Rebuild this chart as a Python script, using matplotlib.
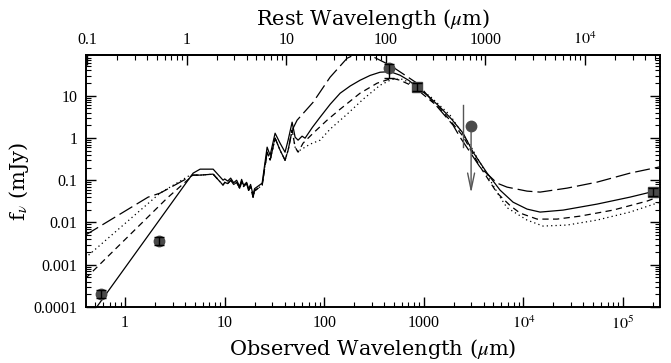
import numpy as np
import matplotlib
matplotlib.use('Agg')
import matplotlib.pyplot as plt
from matplotlib.ticker import FixedLocator, FuncFormatter, LogLocator, NullFormatter

plt.rcParams['font.family'] = ['Liberation Serif', 'DejaVu Serif']
plt.rcParams['mathtext.fontset'] = 'stix'

zfac = 4.15  # 1+z, observed -> rest

# model curves: log10 observed wavelength (um), log10 flux (mJy)
pah_lx = [0.753, 0.884, 0.984, 1.00, 1.03, 1.06, 1.09, 1.12, 1.15, 1.17, 1.19, 1.22, 1.24, 1.26,
          1.285, 1.30, 1.335, 1.376, 1.426, 1.456, 1.506, 1.556, 1.606, 1.637, 1.677, 1.707, 1.737]
pah_solid = [-0.738, -0.738, -1.0, -0.97, -1.02, -0.95, -1.06, -1.0, -1.15, -0.98, -1.12, -1.05, -1.2, -1.1,
             -1.35, -1.2, -1.14, -1.07, -0.217, -0.41, 0.113, -0.123, -0.336, -0.05, 0.374, 0.019, -0.052]
pah_low = [-0.879, -0.856, -1.118, -1.05, -1.08, -1.0, -1.1, -1.05, -1.19, -1.03, -1.15, -1.08, -1.24, -1.15,
           -1.40, -1.25, -1.19, -1.12, -0.336, -0.525, -0.005, -0.288, -0.525, -0.288, 0.184, -0.217, -0.336]

solid_nir_lx = [-0.30, 0.683]
solid_nir_ly = [-4.05, -0.832]
solid_fir_lx = [1.777, 1.807, 1.88, 1.958, 2.06, 2.159, 2.26, 2.359, 2.46, 2.560, 2.661, 2.761, 2.85,
                2.932, 3.05, 3.163, 3.28, 3.394, 3.494, 3.635, 3.765, 3.896, 4.036, 4.167, 4.398,
                4.739, 5.070, 5.402]
solid_fir_ly = [0.043, -0.005, 0.25, 0.492, 0.80, 1.059, 1.23, 1.366, 1.48, 1.556, 1.570, 1.485, 1.36,
                1.2, 0.98, 0.728, 0.44, 0.113, -0.336, -0.832, -1.234, -1.52, -1.683, -1.754, -1.707,
                -1.565, -1.40, -1.21]

sdash_nir_lx = [-0.40, 0.422, 0.683]
sdash_nir_ly = [-3.33, -1.423, -0.879]
sdash_fir_lx = [1.787, 1.888, 2.028, 2.159, 2.359, 2.530, 2.681, 2.761, 2.892, 3.163, 3.394, 3.564,
                3.735, 3.866, 3.966, 4.137, 4.337, 4.568, 4.90, 5.241, 5.402]
sdash_fir_ly = [-0.123, 0.113, 0.421, 0.681, 1.059, 1.296, 1.414, 1.366, 1.225, 0.70, 0.04, -0.68,
                -1.30, -1.60, -1.778, -1.92, -1.92, -1.85, -1.707, -1.494, -1.352]

dot_nir_lx = [-0.40, 0.351, 0.653]
dot_nir_ly = [-2.84, -1.305, -0.879]
dot_fir_lx = [1.757, 1.857, 1.958, 2.058, 2.229, 2.390, 2.560, 2.681, 2.791, 2.892, 3.062, 3.263,
              3.464, 3.635, 3.765, 3.835, 4.036, 4.197, 4.438, 4.739, 5.070, 5.402]
dot_fir_ly = [-0.288, -0.147, -0.052, 0.208, 0.563, 0.917, 1.248, 1.39, 1.39, 1.248, 0.988, 0.539,
              -0.17, -0.879, -1.40, -1.65, -1.943, -2.085, -2.061, -1.943, -1.754, -1.494]

ldash_nir_lx = [-0.40, 0.231, 0.351, 0.683]
ldash_nir_ly = [-2.30, -1.40, -1.305, -0.879]
ldash_fir_lx = [1.727, 1.888, 2.058, 2.229, 2.36, 2.48, 2.661, 2.932, 3.293, 3.363, 3.564, 3.735,
                3.835, 4.036, 4.167, 4.438, 4.739, 5.070, 5.402]
ldash_fir_ly = [0.421, 0.846, 1.437, 1.887, 2.03, 1.934, 1.721, 1.296, 0.303, 0.019, -0.69, -1.069,
                -1.163, -1.258, -1.281, -1.187, -1.045, -0.832, -0.667]

# photometry (um, mJy)
phot_wl = [0.574, 2.19, 447, 855, 2.0e5]
phot_f = [2.03e-4, 3.6e-3, 45, 15.9, 0.052]
phot_lo = [0.4e-4, 0.7e-3, 19, 3, 0.010]
phot_hi = [0.5e-4, 0.9e-3, 10, 4, 0.013]
phot_mk = ['o', 'o', 'o', 's', 's']

lim_wl = 2980
lim_f = 1.9
lim_tip = 0.0495
bar_wl = 2476
bar_f = [0.61, 5.96]


def curve(nlx, nly, plx, ply, flx, fly):
    lx = np.concatenate([nlx, plx, flx])
    ly = np.concatenate([nly, ply, fly])
    return 10 ** lx, 10 ** ly


fig = plt.figure(figsize=(6.71, 3.63), dpi=100)
ax = fig.add_axes([0.1282, 0.1543, 0.8554, 0.6942])

lw = 0.9
x, y = curve(solid_nir_lx, solid_nir_ly, pah_lx, pah_solid, solid_fir_lx, solid_fir_ly)
ax.plot(x, y, color='k', lw=lw)
x, y = curve(sdash_nir_lx, sdash_nir_ly, pah_lx, pah_low, sdash_fir_lx, sdash_fir_ly)
ax.plot(x, y, color='k', lw=lw, dashes=(5, 3.5))
x, y = curve(dot_nir_lx, dot_nir_ly, pah_lx, pah_low, dot_fir_lx, dot_fir_ly)
ax.plot(x, y, color='k', lw=lw, dashes=(1, 2.5))
x, y = curve(ldash_nir_lx, ldash_nir_ly, pah_lx[:-2], pah_low[:-2], ldash_fir_lx, ldash_fir_ly)
ax.plot(x, y, color='k', lw=lw, dashes=(12, 4))

# photometry points
for w, f, lo, hi, mk in zip(phot_wl, phot_f, phot_lo, phot_hi, phot_mk):
    ax.errorbar([w], [f], yerr=[[lo], [hi]], fmt='none', ecolor='k', elinewidth=1.0,
                capsize=3.5, capthick=1.0, zorder=4)
    ax.plot([w], [f], marker=mk, ms=7.5 if mk == 'o' else 6.5, color='#4a4a4a',
            mec='#4a4a4a', ls='none', zorder=3)

# upper limit
ax.plot([bar_wl, bar_wl], bar_f, color='#555555', lw=1.0)
ax.plot([lim_wl], [lim_f], 'o', ms=7.5, color='#4a4a4a', zorder=3)
ax.annotate('', xy=(lim_wl, lim_tip), xytext=(lim_wl, lim_f),
            arrowprops=dict(arrowstyle='->,head_length=1.2,head_width=0.25', color='#555555', lw=1.0,
                            shrinkA=4, shrinkB=0))

ax.set_xscale('log')
ax.set_yscale('log')
ax.set_xlim(0.405, 2.35e5)
ax.set_ylim(1e-4, 92)

for s in ax.spines.values():
    s.set_linewidth(1.4)

def obs_fmt(v, pos):
    e = int(round(np.log10(v)))
    if e >= 4:
        return r'$10^{%d}$' % e
    return '%g' % v

ax.xaxis.set_major_locator(FixedLocator([1, 10, 100, 1000, 1e4, 1e5]))
ax.xaxis.set_major_formatter(FuncFormatter(obs_fmt))
ax.xaxis.set_minor_locator(LogLocator(base=10, subs=np.arange(2, 10), numticks=20))
ax.xaxis.set_minor_formatter(NullFormatter())

ax.yaxis.set_major_locator(FixedLocator([1e-4, 1e-3, 1e-2, 0.1, 1, 10]))
ax.yaxis.set_major_formatter(FuncFormatter(lambda v, p: '%g' % v if v >= 1e-3 else '0.0001'))
ax.yaxis.set_minor_locator(LogLocator(base=10, subs=np.arange(2, 10), numticks=20))
ax.yaxis.set_minor_formatter(NullFormatter())

ax.tick_params(which='both', direction='in', top=False, right=True, labelsize=11.5)
ax.tick_params(which='major', length=7, width=1.0, pad=6)
ax.tick_params(which='minor', length=3.5, width=0.8)

sec = ax.secondary_xaxis('top', functions=(lambda v: v / zfac, lambda v: v * zfac))
sec.xaxis.set_major_locator(FixedLocator([0.1, 1, 10, 100, 1000, 1e4]))
sec.xaxis.set_major_formatter(FuncFormatter(obs_fmt))
sec.xaxis.set_minor_locator(LogLocator(base=10, subs=np.arange(2, 10), numticks=20))
sec.xaxis.set_minor_formatter(NullFormatter())
sec.tick_params(which='both', direction='in', labelsize=11.5)
sec.tick_params(which='major', length=7, width=1.0, pad=5)
sec.tick_params(which='minor', length=3.5, width=0.8)
sec.spines['top'].set_linewidth(1.4)

lab = dict(family=['DejaVu Serif'], fontsize=15)
ax.set_xlabel(r'Observed Wavelength ($\mu$m)', **lab, labelpad=3)
sec.set_xlabel(r'Rest Wavelength ($\mu$m)', **lab, labelpad=5)
ax.set_ylabel(r'f$_\nu$ (mJy)', **lab)
ax.yaxis.set_label_coords(-0.095, 0.5)

fig.savefig('out.png', dpi=100)
